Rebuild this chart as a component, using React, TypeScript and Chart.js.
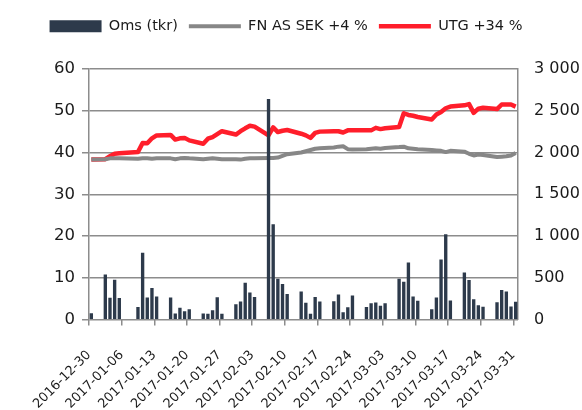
import React, { useEffect, useRef } from 'react';
import { Chart, registerables } from 'chart.js';

Chart.register(...registerables);

const startDate = '2016-12-30';

const tradingDates = [
  '2016-12-30',
  '2017-01-02', '2017-01-03', '2017-01-04', '2017-01-05',
  '2017-01-09', '2017-01-10', '2017-01-11', '2017-01-12', '2017-01-13',
  '2017-01-16', '2017-01-17', '2017-01-18', '2017-01-19', '2017-01-20',
  '2017-01-23', '2017-01-24', '2017-01-25', '2017-01-26', '2017-01-27',
  '2017-01-30', '2017-01-31', '2017-02-01', '2017-02-02', '2017-02-03',
  '2017-02-06', '2017-02-07', '2017-02-08', '2017-02-09', '2017-02-10',
  '2017-02-13', '2017-02-14', '2017-02-15', '2017-02-16', '2017-02-17',
  '2017-02-20', '2017-02-21', '2017-02-22', '2017-02-23', '2017-02-24',
  '2017-02-27', '2017-02-28', '2017-03-01', '2017-03-02', '2017-03-03',
  '2017-03-06', '2017-03-07', '2017-03-08', '2017-03-09', '2017-03-10',
  '2017-03-13', '2017-03-14', '2017-03-15', '2017-03-16', '2017-03-17',
  '2017-03-20', '2017-03-21', '2017-03-22', '2017-03-23', '2017-03-24',
  '2017-03-27', '2017-03-28', '2017-03-29', '2017-03-30', '2017-03-31',
];

// Oms (tkr) – right axis
const turnover = [
  75,
  540, 260, 475, 258,
  150, 800, 262, 376, 275,
  262, 72, 140, 100, 124,
  72, 68, 112, 265, 70,
  184, 216, 440, 322, 268,
  2640, 1142, 488, 424, 304,
  336, 200, 70, 268, 216,
  220, 300, 88, 148, 286,
  150, 194, 205, 166, 196,
  488, 452, 684, 274, 224,
  122, 264, 720, 1022, 228,
  564, 472, 242, 172, 154,
  208, 352, 336, 156, 212,
];

// FN AS SEK +4 % – left axis
const fnIndex = [
  38.3,
  38.4, 38.6, 38.6, 38.6,
  38.5, 38.6, 38.6, 38.5, 38.6,
  38.6, 38.4, 38.6, 38.7, 38.6,
  38.4, 38.5, 38.6, 38.5, 38.4,
  38.4, 38.3, 38.5, 38.6, 38.6,
  38.7, 38.7, 38.8, 39.2, 39.6,
  40.0, 40.3, 40.6, 40.9, 41.0,
  41.2, 41.4, 41.5, 40.8, 40.7,
  40.8, 40.9, 41.0, 40.9, 41.1,
  41.3, 41.4, 41.0, 40.9, 40.8,
  40.6, 40.5, 40.4, 40.1, 40.4,
  40.2, 39.7, 39.3, 39.5, 39.4,
  38.9, 39.0, 39.1, 39.3, 39.9,
];

// UTG +34 % – left axis
const utgPrice = [
  38.3,
  38.4, 39.1, 39.7, 39.8,
  40.1, 42.3, 42.2, 43.4, 44.1,
  44.2, 43.1, 43.4, 43.5, 42.9,
  42.1, 43.3, 43.7, 44.4, 45.1,
  44.3, 45.1, 45.8, 46.4, 46.2,
  44.1, 46.0, 44.9, 45.2, 45.4,
  44.5, 44.1, 43.5, 44.7, 45.0,
  45.1, 45.1, 44.8, 45.3, 45.3,
  45.3, 45.3, 45.9, 45.6, 45.8,
  46.1, 49.4, 49.0, 48.8, 48.5,
  47.9, 49.1, 49.7, 50.6, 51.0,
  51.3, 51.6, 49.5, 50.5, 50.7,
  50.4, 51.5, 51.5, 51.5, 51.0,
];

const tickDates = [
  '2016-12-30', '2017-01-06', '2017-01-13', '2017-01-20', '2017-01-27',
  '2017-02-03', '2017-02-10', '2017-02-17', '2017-02-24', '2017-03-03',
  '2017-03-10', '2017-03-17', '2017-03-24', '2017-03-31',
];

const seriesNames = ['Oms (tkr)', 'FN AS SEK +4 %', 'UTG +34 %'];

const dayOffset = (s: string) =>
  Math.round((Date.parse(s) - Date.parse(startDate)) / 86400000);

const FONT = 'DejaVu Sans';
const TEXT = '#1a1a1a';
const GRID = '#8c8c8c';

const legendPlacePlugin = {
  id: 'legendPlace',
  beforeInit(chart: any) {
    const legend = chart.legend;
    if (!legend) return;
    const origFit = legend.fit;
    legend.fit = function () {
      origFit.call(this);
      this.height = 61;
    };
  },
  afterLayout(chart: any) {
    const legend = chart.legend;
    if (!legend) return;
    legend.left -= 5;
    legend.right -= 5;
  },
};

export default function App() {
  const ref = useRef<HTMLCanvasElement | null>(null);

  useEffect(() => {
    if (!ref.current) return;
    const xs = tradingDates.map((d) => dayOffset(d) + 0.5);
    const tickMap = new Map<number, string>();
    tickDates.forEach((d) => tickMap.set(dayOffset(d), d));

    const chart = new Chart(ref.current, {
      type: 'bar',
      data: {
        datasets: [
          {
            type: 'bar',
            label: seriesNames[0],
            data: xs.map((x, i) => ({ x, y: turnover[i] })),
            backgroundColor: '#2d3a4b',
            borderWidth: 0,
            barPercentage: 0.72,
            categoryPercentage: 1,
            yAxisID: 'y1',
            pointStyle: 'rect',
          } as any,
          {
            type: 'line',
            label: seriesNames[1],
            data: xs.map((x, i) => ({ x, y: fnIndex[i] })),
            borderColor: '#878787',
            backgroundColor: '#878787',
            borderWidth: 4,
            pointRadius: 0,
            tension: 0,
            borderJoinStyle: 'round',
            yAxisID: 'y',
            pointStyle: 'line',
          } as any,
          {
            type: 'line',
            label: seriesNames[2],
            data: xs.map((x, i) => ({ x, y: utgPrice[i] })),
            borderColor: '#ff1e2b',
            backgroundColor: '#ff1e2b',
            borderWidth: 4.5,
            pointRadius: 0,
            tension: 0,
            borderJoinStyle: 'round',
            yAxisID: 'y',
            pointStyle: 'line',
          } as any,
        ],
      },
      options: {
        animation: false,
        responsive: false,
        layout: { padding: { top: 8, left: 0, right: 0, bottom: 0 } },
        plugins: {
          tooltip: { enabled: false },
          legend: {
            position: 'top',
            labels: {
              usePointStyle: true,
              pointStyleWidth: 52,
              boxHeight: 12,
              padding: 11,
              color: TEXT,
              font: { family: FONT, size: 14.5 },
            },
          },
        },
        scales: {
          x: {
            type: 'linear',
            min: 0,
            max: 92,
            offset: false,
            grid: {
              offset: false,
              drawOnChartArea: false,
              drawTicks: true,
              tickLength: 6,
              color: GRID,
              lineWidth: 1.5,
            },
            border: { display: false },
            ticks: {
              autoSkip: false,
              maxRotation: 45,
              minRotation: 45,
              padding: 22,
              color: TEXT,
              font: { family: FONT, size: 13 },
              callback: (v: any) => tickMap.get(Number(v)) ?? '',
            },
            afterBuildTicks: (scale: any) => {
              scale.ticks = tickDates.map((d) => ({ value: dayOffset(d) }));
            },
            afterFit: (scale: any) => {
              scale.height = 90.5;
            },
          },
          y: {
            position: 'left',
            min: 0,
            max: 60,
            grid: { color: GRID, lineWidth: 1.5, tickLength: 7 },
            border: { display: true, color: GRID, width: 1.5 },
            ticks: {
              stepSize: 10,
              padding: 7,
              color: TEXT,
              font: { family: FONT, size: 16.5 },
            },
            afterFit: (scale: any) => {
              scale.width = 89;
            },
          },
          y1: {
            position: 'right',
            min: 0,
            max: 3000,
            grid: { drawOnChartArea: false, drawTicks: false },
            border: { display: true, color: GRID, width: 1.5 },
            ticks: {
              stepSize: 500,
              padding: 16,
              color: TEXT,
              font: { family: FONT, size: 16 },
              callback: (v: any) =>
                String(v).replace(/\B(?=(\d{3})+(?!\d))/g, ' '),
            },
            afterFit: (scale: any) => {
              scale.width = 64;
            },
          },
        },
      } as any,
      plugins: [legendPlacePlugin],
    });
    return () => chart.destroy();
  }, []);

  return (
    <canvas
      ref={ref}
      width={582}
      height={410}
      style={{ display: 'block', position: 'fixed', left: 0, top: 0, width: 582, height: 410 }}
    />
  );
}
